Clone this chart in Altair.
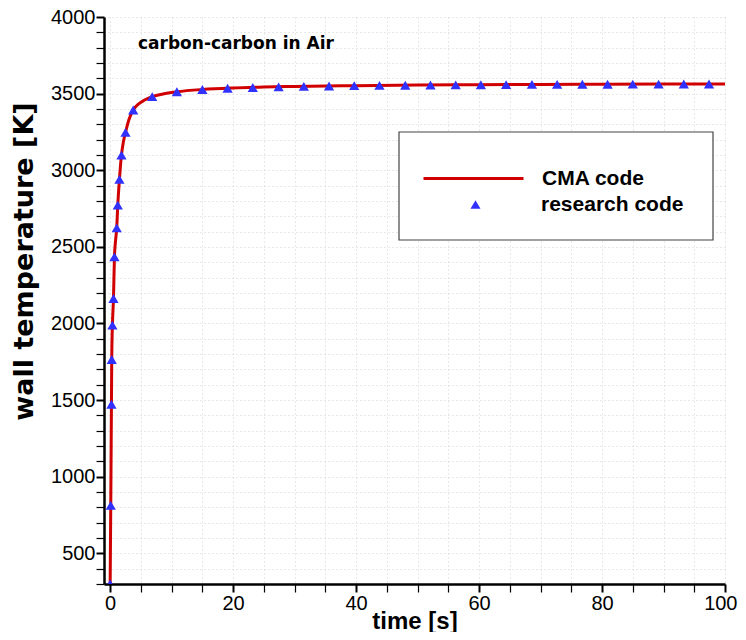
import altair as alt
import pandas as pd

# CMA code (line)
cma_time = [0, 0.10, 0.21, 0.26, 0.37, 0.54, 0.70, 0.88, 1.07, 1.24, 1.51, 1.84, 2.15, 2.50,
            3.05, 3.75, 4.6, 5.6, 6.84, 8.6, 10.85, 15.0, 20, 25, 30, 40, 50, 60, 70, 80, 90, 100]
cma_temp = [300, 813, 1473, 1765, 1989, 2163, 2435, 2540, 2624, 2772, 2940, 3099, 3185, 3247,
            3330, 3393, 3432, 3458, 3480, 3498, 3512, 3527, 3537, 3543, 3547, 3552, 3556, 3558,
            3560, 3561, 3562, 3563]

# research code (triangles)
res_time = [0, 0.10, 0.21, 0.26, 0.37, 0.54, 0.70, 1.07, 1.24, 1.51, 1.84, 2.50, 3.75, 6.84,
            10.85, 15.0, 19.1, 23.2, 27.4, 31.5, 35.6, 39.7, 43.8, 48.0, 52.1, 56.2, 60.3,
            64.4, 68.6, 72.7, 76.8, 80.9, 85.0, 89.2, 93.3, 97.4]
res_temp = [300, 813, 1473, 1765, 1989, 2163, 2435, 2624, 2772, 2940, 3099, 3247, 3393, 3480,
            3512, 3527, 3535, 3540, 3544, 3547, 3550, 3552, 3554, 3555, 3556, 3557, 3558,
            3559, 3560, 3560, 3561, 3561, 3562, 3562, 3563, 3563]

x_ticks = list(range(0, 101, 5))
y_ticks = list(range(300, 4001, 100))

title_text = ["carbon-carbon in Air"]

line_df = pd.DataFrame({"time": cma_time, "temp": cma_temp, "series": "CMA code"})
pts_df = pd.DataFrame({"time": res_time, "temp": res_temp, "series": "research code"})
title_df = pd.DataFrame({"label": title_text})
frame_df = pd.DataFrame({"k": [1]})

x_scale = alt.Scale(domain=[-1, 100], nice=False, zero=False)
y_scale = alt.Scale(domain=[300, 4000], nice=False, zero=False)

x_axis = alt.Axis(
    values=x_ticks, format="d",
    labelExpr="datum.value % 20 === 0 ? datum.label : ''",
    labelOverlap=False, labelFont="Liberation Sans", labelFontSize=20, labelColor="black",
    labelPadding=1, labelFlush=1, labelFlushOffset=12,
    tickSize=8, tickColor="black",
    tickWidth={"condition": {"test": "datum.value % 20 === 0", "value": 2}, "value": 1.2},
    domainColor="black", domainWidth=2.5,
    grid=True, gridDash=[1, 3], gridColor="#d0d0d0", gridWidth=1,
    title="time [s]", titleFont="Liberation Sans", titleFontWeight="bold", titleFontSize=24,
    titleColor="black", titleY=37, titleBaseline="middle",
)
y_axis = alt.Axis(
    values=y_ticks, format="d",
    labelExpr="datum.value % 500 === 0 ? datum.label : ''",
    labelOverlap=False, labelFont="Liberation Sans", labelFontSize=20, labelColor="black",
    labelPadding=1,
    tickSize=8, tickColor="black",
    tickWidth={"condition": {"test": "datum.value % 500 === 0", "value": 2}, "value": 1.2},
    domainColor="black", domainWidth=2.5,
    grid=True, gridDash=[1, 3], gridColor="#d0d0d0", gridWidth=1,
    title="wall temperature [K]", titleFont="DejaVu Sans", titleFontWeight="bold",
    titleFontSize=27, titleColor="black", titleAngle=270, titleX=-80, titleY=244,
    titleAlign="center", titleBaseline="middle",
)

frame = alt.Chart(frame_df).mark_rect(fill="white", stroke="#444444", strokeWidth=1.2).encode(
    x=alt.value(295), x2=alt.value(609), y=alt.value(115), y2=alt.value(223)
)

line = alt.Chart(line_df).mark_line(strokeWidth=3, interpolate="monotone", clip=True).encode(
    x=alt.X("time:Q", scale=x_scale, axis=x_axis),
    y=alt.Y("temp:Q", scale=y_scale, axis=y_axis),
    color=alt.Color(
        "series:N",
        scale=alt.Scale(domain=["CMA code"], range=["#d00000"]),
        legend=alt.Legend(
            title=None, orient="none", legendX=318, legendY=110, padding=0,
            symbolType="stroke", symbolSize=10000, symbolStrokeWidth=3,
            labelFont="Liberation Sans", labelFontWeight="bold", labelFontSize=21,
            labelColor="black", labelOffset=17,
        ),
    ),
)

points = alt.Chart(pts_df).mark_point(filled=True, size=105, opacity=1, clip=True).encode(
    x=alt.X("time:Q", scale=x_scale, axis=x_axis),
    y=alt.Y("temp:Q", scale=y_scale, axis=y_axis),
    color=alt.value("#3030ff"),
    shape=alt.Shape(
        "series:N",
        scale=alt.Scale(domain=["research code"], range=["triangle-up"]),
        legend=alt.Legend(
            title=None, orient="none", legendX=361, legendY=177, padding=0,
            symbolSize=100, symbolFillColor="#3030ff", symbolStrokeWidth=0,
            symbolOpacity=1,
            labelFont="Liberation Sans", labelFontWeight="bold", labelFontSize=21,
            labelColor="black", labelOffset=55,
        ),
    ),
)

title = alt.Chart(title_df).mark_text(
    align="left", baseline="middle", font="DejaVu Sans", fontWeight="bold",
    fontSize=17, color="black",
).encode(x=alt.value(34), y=alt.value(27), text="label:N")

chart = alt.layer(frame, line, points, title).resolve_scale(
    color="independent", shape="independent"
).properties(
    width=621, height=567,
    padding={"left": 96, "top": 9, "right": 13, "bottom": 48},
    autosize=alt.AutoSizeParams(type="none"),
).configure_view(stroke=None)

chart.save("out.html", embed_options={"renderer": "svg", "actions": False})
